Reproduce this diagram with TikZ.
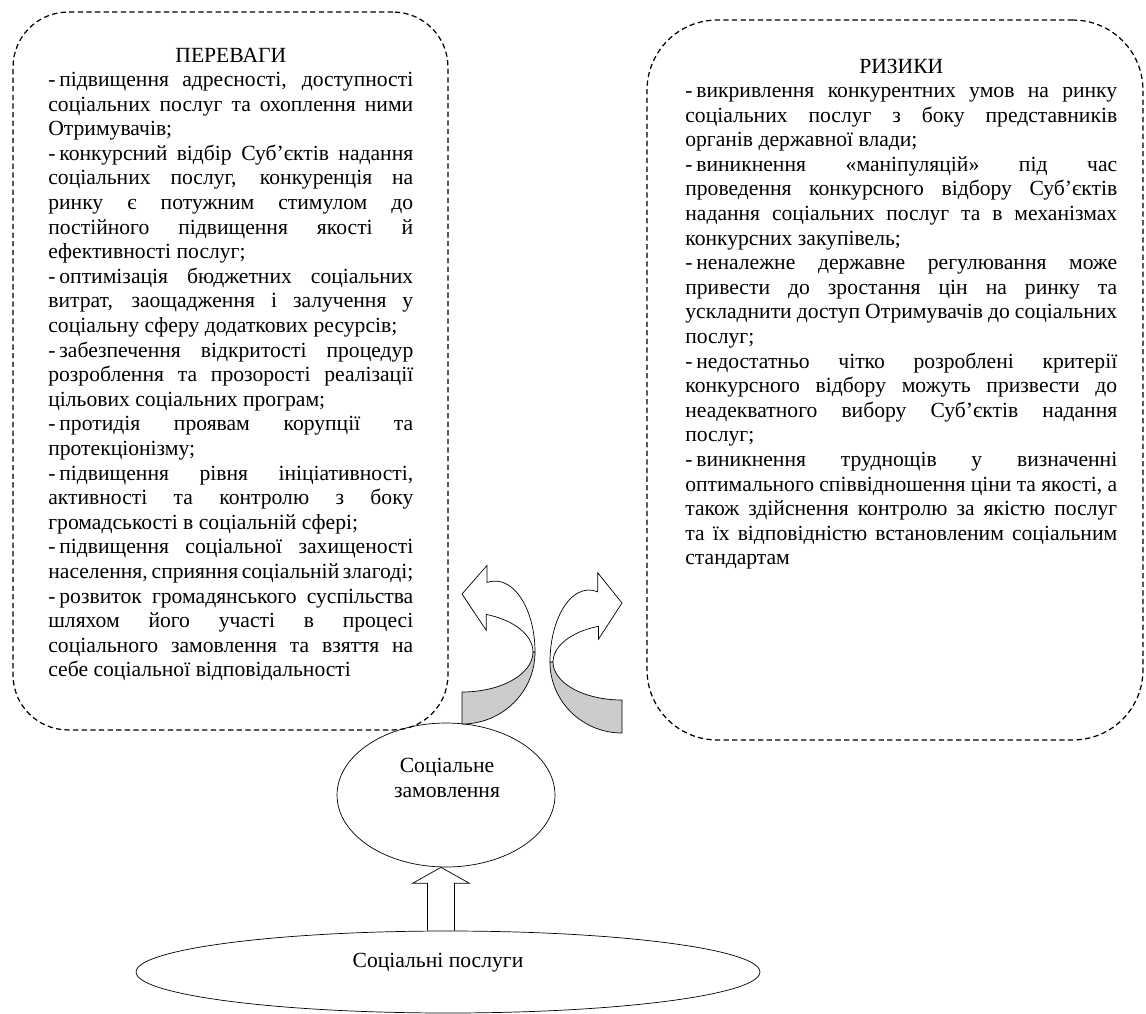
\documentclass[tikz,border=0pt]{standalone}
\usepackage{fontspec}
\setmainfont{Liberation Serif}
\usepackage{tikz}
\usetikzlibrary{positioning}
\usetikzlibrary{shapes.geometric}
\usetikzlibrary{calc}
\pgfdeclarelayer{nodelayer}
\pgfdeclarelayer{edgelayer}
\pgfsetlayers{nodelayer,edgelayer,main}
\newcommand{\itemdash}{-\kern0.18em}

\begin{document}
\begin{tikzpicture}[x=0.02cm, y=-0.02cm, line width=0.6pt,
  textblock/.style={anchor=base west, inner sep=0pt, align=justify,
    font=\fontsize{12.3}{14}\selectfont,
    execute at begin node={\hyphenpenalty=10000 \exhyphenpenalty=10000 \tolerance=9999
      \spaceskip=3.1pt plus 4pt minus 1.6pt}},
  dashbox/.style={draw, line width=0.7pt, dash pattern=on 3pt off 1.9pt, rounded corners=#1},
  band/.style={draw, fill=gray!40}]
  \useasboundingbox (0,0) rectangle (1146,1014);
  \begin{pgfonlayer}{nodelayer}
    \node [dashbox=1.1cm, minimum width=8.7cm, minimum height=14.36cm] (0) at (230.5, 371) {};
    \node [dashbox=1.4cm, minimum width=9.92cm, minimum height=14.4cm] (1) at (895, 380) {};
    \node [textblock, text width=7.3cm] (2) at (48, 62) {\centerline{ПЕРЕВАГИ}
      \itemdash підвищення адресності, доступності\linebreak соціальних послуг та охоплення ними\linebreak Отримувачів;\par
      \itemdash конкурсний відбір Суб’єктів надання\linebreak соціальних послуг, конкуренція на\linebreak ринку є потужним стимулом до\linebreak постійного підвищення якості й\linebreak ефективності послуг;\par
      \itemdash оптимізація бюджетних соціальних\linebreak витрат, заощадження і залучення у\linebreak соціальну сферу додаткових ресурсів;\par
      \itemdash забезпечення відкритості процедур\linebreak розроблення та прозорості реалізації\linebreak цільових соціальних програм;\par
      \itemdash протидія проявам корупції та\linebreak протекціонізму;\par
      \itemdash підвищення рівня ініціативності,\linebreak активності та контролю з боку\linebreak громадськості в соціальній сфері;\par
      \itemdash підвищення соціальної захищеності\linebreak населення, сприяння соціальній злагоді;\par
      \itemdash розвиток громадянського суспільства\linebreak шляхом його участі в процесі\linebreak соціального замовлення та взяття на\linebreak себе соціальної відповідальності};
    \node [textblock, text width=8.64cm] (3) at (685, 73) {\centerline{РИЗИКИ}
      \itemdash викривлення конкурентних умов на ринку\linebreak соціальних послуг з боку представників\linebreak органів державної влади;\par
      \itemdash виникнення «маніпуляцій» під час\linebreak проведення конкурсного відбору Суб’єктів\linebreak надання соціальних послуг та в механізмах\linebreak конкурсних закупівель;\par
      \itemdash неналежне державне регулювання може\linebreak привести до зростання цін на ринку та\linebreak ускладнити доступ Отримувачів до соціальних\linebreak послуг;\par
      \itemdash недостатньо чітко розроблені критерії\linebreak конкурсного відбору можуть призвести до\linebreak неадекватного вибору Суб’єктів надання\linebreak послуг;\par
      \itemdash виникнення труднощів у визначенні\linebreak оптимального співвідношення ціни та якості, а\linebreak також здійснення контролю за якістю послуг\linebreak та їх відповідністю встановленим соціальним\linebreak стандартам};
    \node [draw, ellipse, inner sep=0pt, minimum width=4.36cm, minimum height=2.88cm] (4) at (446, 795) {};
    \node [draw, ellipse, inner sep=0pt, minimum width=12.48cm, minimum height=1.64cm] (5) at (448, 972) {};
    \node [align=center, font=\fontsize{12.3}{14}\selectfont] (6) at (447, 778) {Соціальне\\замовлення};
    \node [font=\fontsize{12.3}{14}\selectfont] (7) at (438, 963) {Соціальні послуги};
    \coordinate (8) at (462, 652);
    \coordinate (9) at (622, 662);
    \coordinate (12) at (495, 652);
    \coordinate (13) at (589, 662);
  \end{pgfonlayer}
  \begin{pgfonlayer}{edgelayer}
    \draw [band] ($(8)+(0:73 and 72)$) arc [start angle=0, end angle=90, x radius=73, y radius=72]
      -- ($(8)+(90:71 and 40)$) arc [start angle=90, end angle=0, x radius=71, y radius=40] -- cycle;
    \draw [fill=white] ($(12)+(-101.5:40 and 71)$) arc [start angle=-101.5, end angle=0, x radius=40, y radius=71]
      -- ($(8)+(0:71 and 40)$) arc [start angle=0, end angle=-70, x radius=71, y radius=40]
      -- ++(0, 16) -- (462, 594) -- ($(12)+(-101.5:40 and 71)+(0,-17)$) -- cycle;
    \draw [band] ($(9)+(180:72 and 71)$) arc [start angle=180, end angle=90, x radius=72, y radius=71]
      -- ($(9)+(90:69 and 38)$) arc [start angle=90, end angle=180, x radius=69, y radius=38] -- cycle;
    \draw [fill=white] ($(13)+(-77:39 and 72)$) arc [start angle=-77, end angle=-180, x radius=39, y radius=72]
      -- ($(9)+(180:69 and 38)$) arc [start angle=180, end angle=250, x radius=69, y radius=38]
      -- ++(0, 13) -- (622, 603) -- ($(13)+(-77:39 and 72)+(0,-19)$) -- cycle;
    \coordinate (10) at ($(4.south)+(-5,0)$);
    \coordinate (11) at (10 |- 5.north);
    \draw ($(11)+(-13.5,0)$) -- ($(10)+(-13.5,16)$) -- ($(10)+(-28.5,16)$) -- (10)
      -- ($(10)+(28.5,16)$) -- ($(10)+(13.5,16)$) -- ($(11)+(13.5,0)$);
  \end{pgfonlayer}
\end{tikzpicture}
\end{document}
